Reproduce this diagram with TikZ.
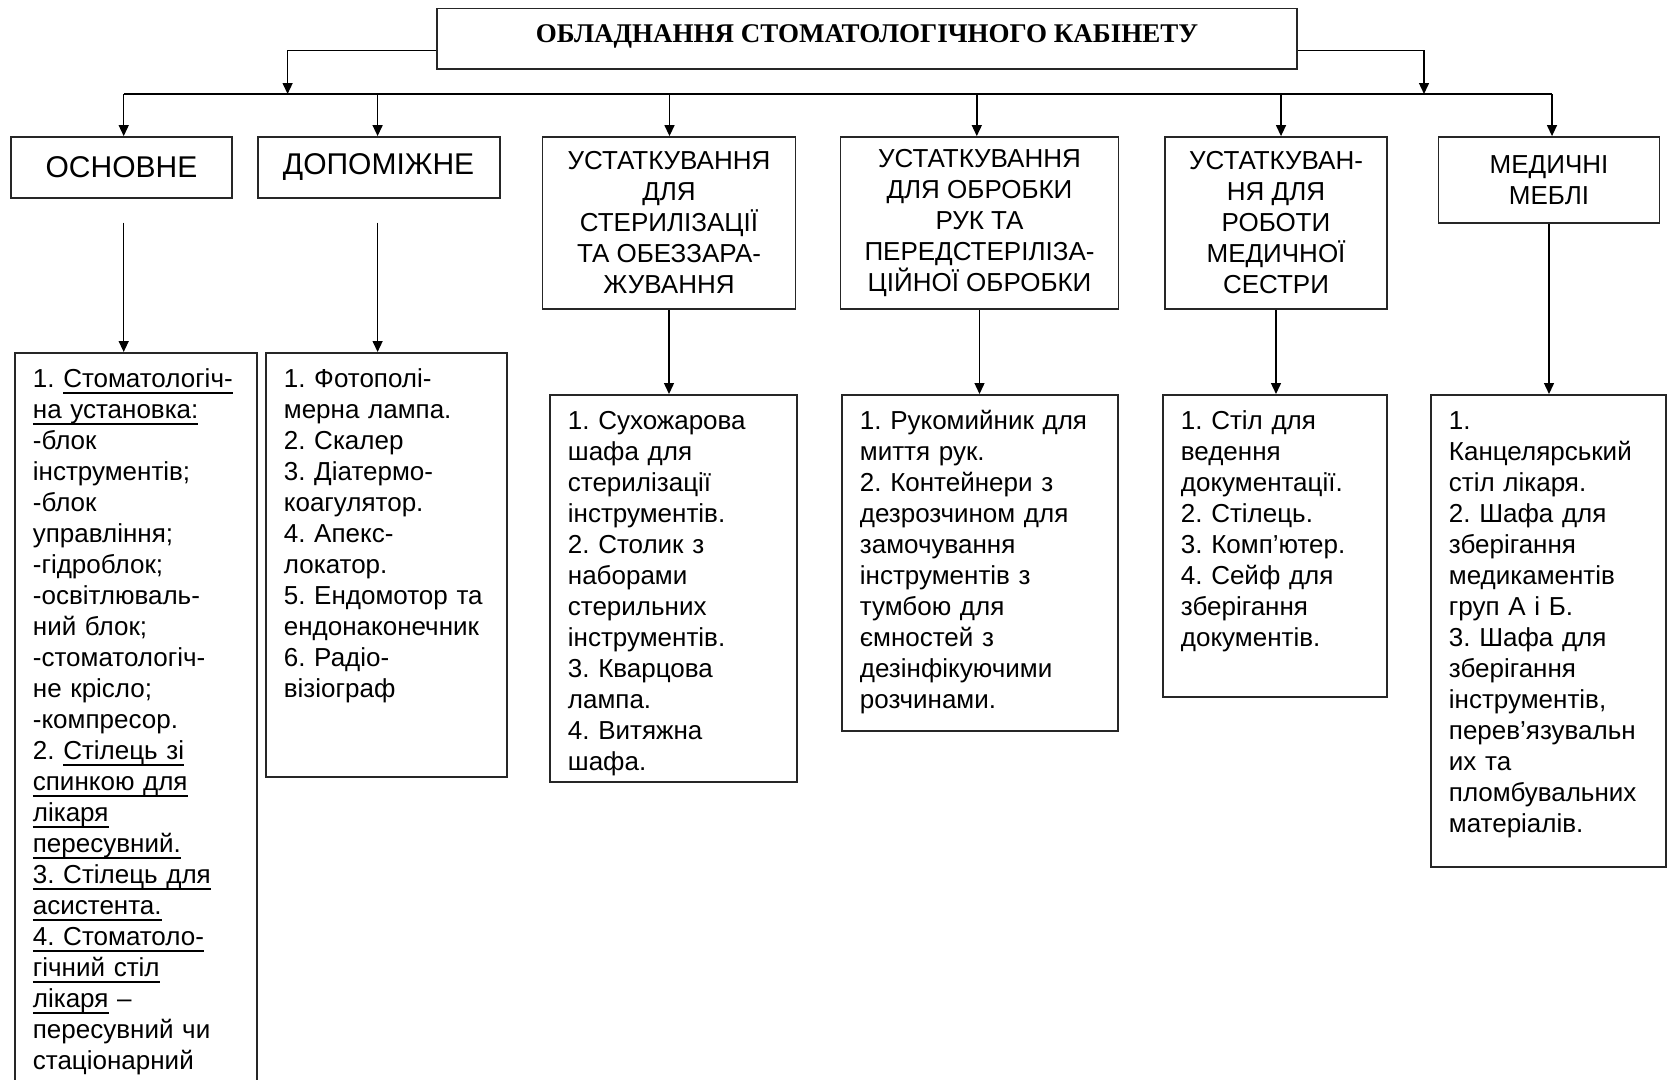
\documentclass[tikz,border=0pt]{standalone}
\usepackage{fontspec}
\setmainfont{Liberation Sans}
\newfontfamily\titlefont{Liberation Serif}
\usepackage{tikz}
\usetikzlibrary{arrows.meta}
\frenchspacing

% underline that sits low, under the descenders
\newcommand\undl[1]{\leavevmode\setbox0\hbox{#1}\rlap{\rule[-6.5pt]{\wd0}{2pt}}\box0\relax}

\tikzset{
  box/.style={draw=black!85, line width=1.8pt},
  headbox/.style={box, align=center, inner sep=0pt, font=\fontsize{26}{31}\selectfont},
  bighead/.style={headbox, font=\fontsize{30}{34}\selectfont},
  listbox/.style={box, anchor=north west, align=left, inner xsep=18pt, inner ysep=13pt,
                  text height=22pt, font=\fontsize{26}{31}\selectfont},
  arr/.style={line width=1.4pt, -{Triangle[length=11pt,width=10pt]}},
  busline/.style={line width=1.4pt}
}

\begin{document}
\begin{tikzpicture}[x=1pt, y=-1pt]
            \useasboundingbox (0,0) rectangle (1667,1079);
            \clip (0,0) rectangle (1667,1079);
            \fill[white] (0,0) rectangle (1667,1079);

            %% title
            \node[box, inner sep=0pt, minimum width=860pt, text height=34pt, text depth=26.5pt,
                  font=\titlefont\bfseries\fontsize{27}{31}\selectfont] (root) at (867,38.75)
                  {ОБЛАДНАННЯ СТОМАТОЛОГІЧНОГО КАБІНЕТУ};

            %% headings
            \node[bighead, minimum width=221pt, minimum height=61pt]  (osn)  at (121.5,167.5) {ОСНОВНЕ};
            \node[bighead, minimum width=242pt, minimum height=61pt]  (dop)  at (378.6,167.5) {ДОПОМІЖНЕ};
            \node[headbox, minimum width=253pt, minimum height=172pt] (ster) at (669,223)
                  {УСТАТКУВАННЯ\\ДЛЯ\\СТЕРИЛІЗАЦІЇ\\ТА ОБЕЗЗАРА-\\ЖУВАННЯ};
            \node[headbox, minimum width=278pt, minimum height=172pt] (ruk)  at (979.5,223)
                  {УСТАТКУВАННЯ\\ДЛЯ ОБРОБКИ\\РУК ТА\\ПЕРЕДСТЕРІЛІЗА-\\ЦІЙНОЇ ОБРОБКИ};
            \node[headbox, minimum width=222pt, minimum height=172pt] (sest) at (1276,223)
                  {УСТАТКУВАН-\\НЯ ДЛЯ\\РОБОТИ\\МЕДИЧНОЇ\\СЕСТРИ};
            \node[headbox, minimum width=221pt, minimum height=86pt]  (mebl) at (1549,180)
                  {МЕДИЧНІ\\МЕБЛІ};

            %% lists
            \node[listbox, text width=206pt, text depth=712pt] (osnL) at (14,352)
                  {1. \undl{Стоматологіч-}\\
                   \undl{на установка:}\\
                   -блок\\
                   інструментів;\\
                   -блок\\
                   управління;\\
                   -гідроблок;\\
                   -освітлюваль-\\
                   ний блок;\\
                   -стоматологіч-\\
                   не крісло;\\
                   -компресор.\\
                   2. \undl{Стілець зі}\\
                   \undl{спинкою для}\\
                   \undl{лікаря}\\
                   \undl{пересувний.}\\
                   \undl{3. Стілець для}\\
                   \undl{асистента.}\\
                   \undl{4. Стоматоло-}\\
                   \undl{гічний стіл}\\
                   \undl{лікаря} --\\
                   пересувний чи\\
                   стаціонарний};
            \node[listbox, text width=205pt, text depth=376pt] (dopL) at (265,352)
                  {1. Фотополі-\\мерна лампа.\\2. Скалер\\3. Діатермо-\\коагулятор.\\4. Апекс-\\локатор.\\
                   5. Ендомотор та\\ендонаконечник\\6. Радіо-\\візіограф};
            \node[listbox, text width=211pt, text depth=339pt] (sterL) at (549,394)
                  {1. Сухожарова\\шафа для\\стерилізації\\інструментів.\\2. Столик з\\наборами\\
                   стерильних\\інструментів.\\3. Кварцова\\лампа.\\4. Витяжна\\шафа.};
            \node[listbox, text width=240pt, text depth=288pt] (rukL) at (841,394)
                  {1. Рукомийник для\\миття рук.\\2. Контейнери з\\дезрозчином для\\замочування\\
                   інструментів з\\тумбою для\\ємностей з\\дезінфікуючими\\розчинами.};
            \node[listbox, text width=188pt, text depth=254pt] (sestL) at (1162,394)
                  {1. Стіл для\\ведення\\документації.\\2. Стілець.\\3. Комп'ютер.\\4. Сейф для\\
                   зберігання\\документів.};
            \node[listbox, text width=199pt, text depth=424pt] (meblL) at (1430,394)
                  {1.\\Канцелярський\\стіл лікаря.\\2. Шафа для\\зберігання\\медикаментів\\груп А і Б.\\
                   3. Шафа для\\зберігання\\інструментів,\\перев'язувальн\\их та\\пломбувальних\\матеріалів.};

            %% title to bus
            \coordinate (busL) at (287.6,94);
            \coordinate (busR) at (1424,94);
            \draw[arr] ([yshift=-12pt]root.west) -| (busL);
            \draw[arr] ([yshift=-12pt]root.east) -| (busR);

            %% bus and drops
            \coordinate (b1) at (123.7,94);
            \coordinate (b2) at (377.6,94);
            \coordinate (b3) at (669.5,94);
            \coordinate (b4) at (976.8,94);
            \coordinate (b5) at (1281,94);
            \coordinate (b6) at (1552,94);
            \draw[busline] (b1) -- (b6);
            \foreach \b/\n in {b1/osn, b2/dop, b3/ster, b4/ruk, b5/sest, b6/mebl}
                \draw[arr] (\b) -- (\b |- \n.north);

            %% headings to lists
            \coordinate (d1) at (123.7,222.7);
            \coordinate (d2) at (377.6,222.7);
            \draw[arr] (d1) -- (d1 |- osnL.north);
            \draw[arr] (d2) -- (d2 |- dopL.north);
            \draw[arr] (ster.south) -- (ster.south |- sterL.north);
            \draw[arr] (ruk.south)  -- (ruk.south |- rukL.north);
            \draw[arr] (sest.south) -- (sest.south |- sestL.north);
            \draw[arr] (mebl.south) -- (mebl.south |- meblL.north);

\end{tikzpicture}
\end{document}
